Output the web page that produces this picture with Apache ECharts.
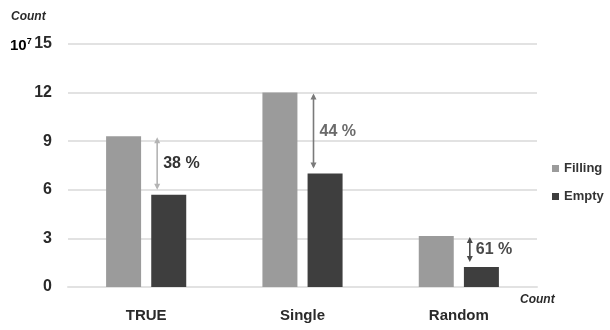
<!DOCTYPE html>
<html>
<head>
<meta charset="utf-8">
<script src="https://cdn.jsdelivr.net/npm/echarts@6/dist/echarts.min.js"></script>
<style>html,body{margin:0;padding:0;background:#fff}#c{width:610px;height:330px}</style>
</head>
<body>
<div id="c"></div>
<script>
var categories = ['TRUE', 'Single', 'Random'];
var fillingValues = [9.3, 12.0, 3.15];
var emptyValues = [5.7, 7.0, 1.23];
var diffLabels = ['38 %', '44 %', '61 %'];
var yTicks = [0, 3, 6, 9, 12, 15];

var FONT = '"Liberation Sans","Arial",sans-serif';
var arrowColors = ['#b4b4b4', '#7a7a7a', '#4a4a4a'];
var labelColors = ['#333333', '#6a6a6a', '#4a4a4a'];

var arrowData = categories.map(function (c, i) {
  return [i, fillingValues[i], emptyValues[i], diffLabels[i]];
});

var chart = echarts.init(document.getElementById('c'), null, {renderer: 'canvas'});
chart.setOption({
  backgroundColor: '#ffffff',
  animation: false,
  grid: {left: 68, right: 73, top: 44, bottom: 43},
  legend: {
    orient: 'vertical', left: 547, top: 157,
    itemWidth: 7, itemHeight: 7, itemGap: 15,
    icon: 'rect',
    textStyle: {fontFamily: FONT, fontWeight: 'bold', fontSize: 13, color: '#333'},
    data: ['Filling', 'Empty']
  },
  xAxis: {
    type: 'category', data: categories,
    axisLine: {show: true, lineStyle: {color: '#e2e2e2', width: 2}},
    axisTick: {show: false},
    axisLabel: {margin: 21, fontFamily: FONT, fontWeight: 'bold', fontSize: 15, color: '#2a2a2a'}
  },
  yAxis: {
    type: 'value', min: yTicks[0], max: yTicks[yTicks.length - 1], interval: 3,
    axisLine: {show: false}, axisTick: {show: false},
    splitLine: {lineStyle: {color: '#e2e2e2', width: 2}},
    axisLabel: {margin: 16, fontFamily: FONT, fontWeight: 'bold', fontSize: 16, color: '#2a2a2a'}
  },
  graphic: [
    {type: 'text', left: 11, top: 11, style: {text: 'Count', font: 'italic bold 12px ' + FONT, fill: '#2a2a2a'}},
    {type: 'text', left: 10, top: 37, style: {
      text: '{b|10}{s|7}', rich: {
        b: {fontFamily: FONT, fontWeight: 'bold', fontSize: 15, color: '#2a2a2a', verticalAlign: 'bottom'},
        s: {fontFamily: FONT, fontWeight: 'bold', fontSize: 9, color: '#2a2a2a', verticalAlign: 'top', padding: [0, 0, 7, 0]}
      }}},
    {type: 'text', left: 520, top: 294, style: {text: 'Count', font: 'italic bold 12px ' + FONT, fill: '#2a2a2a'}}
  ],
  series: [
    {name: 'Filling', type: 'bar', data: fillingValues, barWidth: 35, barGap: '29%',
     itemStyle: {color: '#9b9b9b'}},
    {name: 'Empty', type: 'bar', data: emptyValues, barWidth: 35,
     itemStyle: {color: '#3e3e3e'}},
    {name: 'diff', type: 'custom', data: arrowData, z: 10,
     renderItem: function (params, api) {
       var i = api.value(0);
       var top = api.coord([i, api.value(1)]);
       var bot = api.coord([i, api.value(2)]);
       var x = top[0] + 11;
       var y1 = top[1] + 1;
       var y2 = bot[1] - 5;
       var col = arrowColors[params.dataIndex];
       var h = 6, w = 3;
       return {type: 'group', children: [
         {type: 'line', shape: {x1: x, y1: y1 + 2, x2: x, y2: y2 - 2}, style: {stroke: col, lineWidth: 1.6}},
         {type: 'polygon', shape: {points: [[x, y1], [x - w, y1 + h], [x + w, y1 + h]]}, style: {fill: col}},
         {type: 'polygon', shape: {points: [[x, y2], [x - w, y2 - h], [x + w, y2 - h]]}, style: {fill: col}},
         {type: 'text', x: x + 6, y: (y1 + y2) / 2, style: {
           text: diffLabels[params.dataIndex], font: 'bold 16px ' + FONT,
           fill: labelColors[params.dataIndex], verticalAlign: 'middle', align: 'left'}}
       ]};
     }}
  ]
});
</script>
</body>
</html>
